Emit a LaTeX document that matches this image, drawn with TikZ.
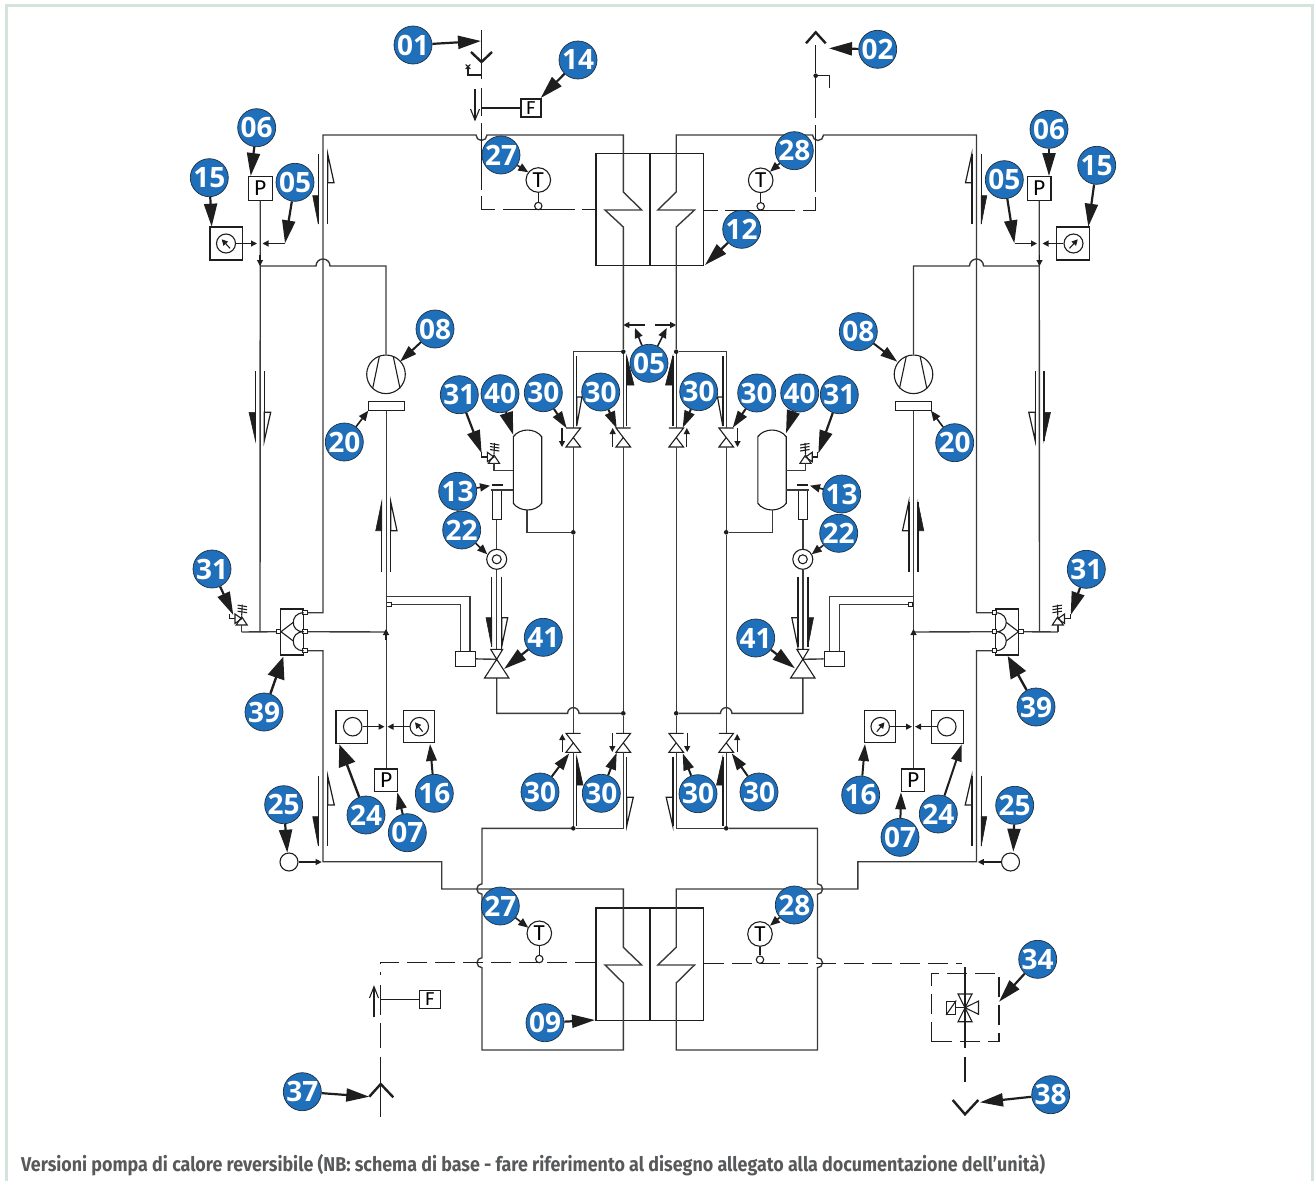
\documentclass[tikz,border=0pt]{standalone}
\usepackage{fontspec}
\setmainfont{Carlito}
\newfontfamily\chiffres{Open Sans}
\newfontfamily\legende[FakeStretch=0.894]{Fira Sans}
\usetikzlibrary{arrows.meta}
\definecolor{bleu}{HTML}{1F6FBA}
\definecolor{trait}{HTML}{3A3A3A}
\definecolor{noir}{HTML}{1E1E1E}
\definecolor{cadre}{HTML}{D5E4DA}
\definecolor{texte}{HTML}{58595B}

\newcommand{\demi}[6]{
	\draw[fil] (#1,#2) -- (#1,#3);
	\draw[#6] (#1,#3) -- (#5,#4) -- (#1,#4) -- cycle;
}
\newcommand{\clapet}[4]{
	\begin{scope}[shift={(#1,#2)},xscale=#3]
		\coordinate (#4h) at (0,0);
		\coordinate (#4b) at (0,19);
		\draw[fin] (-7.3,0) -- (7.3,0) -- (-7.3,19) -- (7.3,19) -- (0,9.5);
	\end{scope}
}
\newcommand{\soupape}[2]{
	\begin{scope}[shift={(#1,#2)}]
		\draw[fin] (-5.5,6.3) -- (5.5,6.3) -- (0,-2) -- cycle;
		\draw[fin] (-6.7,-4.7) -- (-6.7,4.7) -- (0,0) -- cycle;
		\draw[fin] (-6.7,0) -- (-12.3,0) -- (-12.3,-5);
		\draw[fin] (0.5,-14) -- (0,-3);
		\draw[fin] (-4,-13.5) -- (5.3,-12);
		\draw[fin] (-4,-10.5) -- (5.3,-9);
		\draw[fin] (-4,-7.5) -- (5.3,-6);
	\end{scope}
}
\newcommand{\moitie}{
	\node[boite,minimum width=54pt,minimum height=112.5pt] (e1) at (623,209.3) {};
	\node[boite,minimum width=54pt,minimum height=112.7pt] (e2) at (623,964.3) {};
	\node[boite,minimum width=23.5pt,minimum height=23.5pt] (p1) at (260.3,188.3) {P};
	\node[boite,minimum width=23pt,minimum height=22.7pt] (p2) at (386.2,780.3) {P};
	\node[boite,minimum width=32.7pt,minimum height=33pt] (b15) at (226.3,243.5) {};
	\node[rond,minimum size=19pt] (m15) at (226,243.5) {};
	\node[boite,minimum width=31pt,minimum height=32.4pt] (b16) at (419.2,726.5) {};
	\node[rond,minimum size=18.5pt] (m16) at (419.3,726.7) {};
	\node[boite,minimum width=31.7pt,minimum height=33pt] (b24) at (351.8,726.8) {};
	\node[rond,minimum size=18.5pt] (m24) at (352.7,726.7) {};
	\node[rond,minimum size=18pt] (m25) at (289,862) {};
	\node[rond,minimum size=38.6pt] (k1) at (386,374.3) {};
	\node[boite,minimum width=35.7pt,minimum height=8.6pt] (r20) at (386.2,406) {};
	\node[boite,minimum width=8.7pt,minimum height=28.6pt] (f13) at (496.7,505) {};
	\node[rond,minimum size=20pt] (v22) at (496.7,559.3) {};
	\node[rond,minimum size=9pt] (w22) at (496.7,559.3) {};
	\node[boite,minimum width=20pt,minimum height=15.3pt] (s41) at (465.3,658.7) {};
	\node[carre] (q0) at (389,604.3) {};
	\node[boite,minimum width=23pt,minimum height=46pt] (v39) at (292.2,632) {};
	\node[carre] (q1) at (305,612.7) {};
	\node[carre] (q2) at (305,631.7) {};
	\node[carre] (q3) at (305,650.7) {};
	\node[carre] (q4) at (278.7,631.7) {};
	\node[point] (j5) at (623.3,351.7) {};
	\node[point] (j6) at (573.3,532.3) {};
	\node[point] (j7) at (573.3,828.3) {};
	\node[point] (j8) at (623.3,713.3) {};
	\coordinate (j1) at (260,266);
	\coordinate (j2) at (260,632);
	\coordinate (j3) at (386,632);
	\coordinate (j4) at (386,596.7);
	\coordinate (j9) at (241.7,632);
	\coordinate (r1) at (527,510);
	\coordinate (v1) at (496.7,649.3);
	\coordinate (v2) at (496.7,678);
	\coordinate (v3) at (496.7,659.3);
	\coordinate (a15) at (257,243.5);
	\coordinate (a05) at (262.5,243.5);
	\coordinate (c05) at (285,243.5);
	\coordinate (a16) at (387.5,726.7);
	\coordinate (a24) at (384.5,726.7);
	\coordinate (a25) at (321.7,862);
	\clapet{573.3}{428}{1}{c1}
	\clapet{623.3}{428}{-1}{c2}
	\clapet{573.3}{733.3}{-1}{c3}
	\clapet{623.3}{733.3}{1}{c4}
	\soupape{494}{457}
	\soupape{241.7}{618.7}
	\draw[tuyau] (q1) -| (323,135) -- (476,135) arc[start angle=180,end angle=360,radius=5.5pt]
		-- (623.3,135) -- (623.3,192) -- (641.7,210) -- (605,210) -- (623.3,227) -- (j5);
	\draw[tuyau] (j5) -- (c2h);
	\draw[tuyau] (j5) -| (c1h);
	\draw[tuyau] (c1b) -- (j6);
	\draw[tuyau] (j6) -- (c3h);
	\draw[tuyau] (c2b) -- (j8);
	\draw[tuyau] (j8) -- (c4h);
	\draw[tuyau] (c3b) -- (j7);
	\draw[tuyau] (c4b) |- (j7);
	\draw[tuyau] (j7) -- (482,828.3) -- (482,883.8) arc[start angle=90,end angle=270,radius=5.2pt]
		-- (482,957.7) arc[start angle=90,end angle=270,radius=5pt]
		-- (482,1050) -- (623.3,1050) -- (623.3,983) -- (605,965) -- (641.7,965) -- (623.3,947.3)
		-- (623.3,889) -- (441.7,889) -- (441.7,861.7) -- (323,861.7) |- (q3);
	\draw[tuyau] (p1) -- (j2);
	\draw[petite] (260,255) -- (j1);
	\draw[tuyau] (j1) -- (316,266) arc[start angle=180,end angle=0,radius=7pt] -- (386,266) -- (k1);
	\draw[tuyau] (r20) -- (p2);
	\draw[tuyau] (q2) -- (j3);
	\draw[petite] (386,640) -- (386,629);
	\draw[tuyau] (q4) -- (j9);
	\draw[tuyau] (j9) -- (241.7,625);
	\draw[tuyau] (j4) -| (470,651);
	\draw[tuyau] (q0) -| (460.3,651);
	\draw[tuyau] (s41) -- (v3);
	\draw[tuyau] (v22) -- (v1);
	\draw[tuyau] (f13) -- (v22);
	\draw[tuyau] (v2) -- (496.7,713.3) -- (567.6,713.3) arc[start angle=180,end angle=0,radius=5.7pt] -- (j8);
	\draw[fin] (v1) ++(-6,0) -- ++(12,0) -- (v3) -- cycle;
	\draw[fin] (v2) ++(-12.2,0) -- ++(24.4,0) -- (v3) -- cycle;
	\draw[fin] (513.3,503.3) -- (513.3,436.7) .. controls (520,427.8) and (535,427.8) .. (541.7,436.7)
		-- (541.7,503.3) .. controls (535,512.2) and (520,512.2) .. cycle;
	\draw[tuyau] (r1) |- (j6);
	\draw[tuyau] (494,463.3) |- (513.3,470.7);
	\draw[tuyau] (513.3,490) -- (490.7,490);
	\draw[fin] (491.7,485) -- (502.7,485);
	\draw[fin] (379.3,356.7) -- (372.7,388.3);
	\draw[fin] (393.3,356.7) -- (400,388.3);
	\draw[fin] (303.7,612.7) .. controls (296,613) and (293.3,618) .. (293.3,622.3)
		.. controls (293.3,627) and (296,631.7) .. (303.7,631.7)
		.. controls (296,632) and (293.3,636.5) .. (293.3,641)
		.. controls (293.3,646) and (296,650.5) .. (303.7,650.7);
	\draw[fin] (293.3,622.3) -- (281,631.7) -- (293.3,641);
	\draw[petite] (m15) -- (a15);
	\draw[petite] (c05) -- (a05);
	\draw[petite] (230,248.3) -- (221.7,239.3);
	\draw[petite] (m16) -- (a16);
	\draw[petite] (m24) -- (a24);
	\draw[petite] (422.7,731.7) -- (415,722.3);
	\draw[petite] (m25) -- (a25);
	\draw[petite] (645,325) -- (623.3,325);
	\draw[petite] (562,428) -- (562,447);
	\draw[petite] (612.7,447) -- (612.7,428);
	\draw[petite] (562.3,752) -- (562.3,734);
	\draw[petite] (612.3,733) -- (612.3,752);
	\demi{318.3}{154}{224}{195.7}{312.7}{pleine}
	\demi{327.7}{224}{154}{182.7}{334}{creuse}
	\demi{255.5}{371}{440.7}{412.3}{249}{pleine}
	\demi{264.3}{371}{440.7}{412.3}{270.7}{creuse}
	\demi{381.7}{571.7}{501.7}{530.7}{375.7}{pleine}
	\demi{390.7}{571.7}{501.7}{530.7}{397}{creuse}
	\demi{491.7}{576.7}{646.7}{617.7}{486}{pleine}
	\demi{501.7}{576.7}{646.7}{617.7}{507.7}{creuse}
	\demi{318.3}{776}{846}{816.7}{312.7}{pleine}
	\demi{327.7}{846}{776}{805}{334.3}{creuse}
	\demi{576.7}{356}{426}{397}{582}{creuse}
	\demi{626.7}{426}{356}{385}{634}{pleine}
	\demi{576.7}{826}{756.7}{785}{583}{pleine}
	\demi{626.7}{756.7}{826}{797.3}{633.3}{creuse}
}

\begin{document}
\begin{tikzpicture}[x=1pt,y=-1pt]
	\tikzstyle{boite}=[rectangle,draw=noir,line width=1.1pt,inner sep=0pt,font=\fontsize{23}{23}\selectfont]
	\tikzstyle{rond}=[circle,draw=noir,line width=1.1pt,inner sep=0pt,fill=white,font=\fontsize{23}{23}\selectfont]
	\tikzstyle{carre}=[rectangle,draw=noir,line width=1pt,inner sep=0pt,fill=white,minimum size=4.5pt]
	\tikzstyle{point}=[circle,fill=noir,inner sep=0pt,minimum size=4.6pt]
	\tikzstyle{tuyau}=[draw=trait,line width=1.4pt]
	\tikzstyle{fin}=[draw=noir,line width=1.1pt,line join=miter]
	\tikzstyle{fil}=[draw=noir,line width=1.4pt]
	\tikzstyle{pleine}=[draw=noir,line width=.6pt,fill=noir]
	\tikzstyle{creuse}=[draw=noir,line width=1.2pt,fill=white]
	\tikzstyle{petite}=[draw=noir,line width=1.1pt,-{Triangle[length=6pt,width=6pt]}]
	\tikzstyle{enorme}=[draw=noir,line width=2.4pt,-{Triangle[length=22pt,width=17pt]}]
	\tikzstyle{grande}=[draw=noir,line width=2.2pt,-{Triangle[length=23pt,width=13pt]}]
	\tikzstyle{moyenne}=[draw=noir,line width=2pt,-{Triangle[length=17pt,width=10.5pt]}]
	\tikzstyle{mini}=[draw=noir,line width=1.6pt,-{Triangle[length=10pt,width=8pt]}]
	\tikzstyle{pastille}=[circle,draw=noir!80!bleu,line width=.7pt,fill=bleu,text=white,inner sep=0pt,minimum size=38pt,font=\chiffres\bfseries\fontsize{28}{28}\selectfont]
	\tikzstyle{eau}=[draw=noir,line width=1.2pt,dash pattern=on 20pt off 8pt]
	\tikzstyle{chevron}=[draw=noir,line width=2.4pt,line join=miter]

	\useasboundingbox (0,0) rectangle (1315,1181);
	\draw[draw=cadre,line width=3pt] (6,1181) -- (6,5.5) -- (1312,5.5) -- (1312,1181);

	\begin{scope}[name prefix=g-]
		\moitie
	\end{scope}
	\begin{scope}[name prefix=d-,xshift=1299.5pt,xscale=-1]
		\moitie
	\end{scope}

	\node[boite,minimum width=20pt,minimum height=18pt,font=\fontsize{20}{20}\selectfont] (f1) at (531,108) {F};
	\node[boite,minimum width=20.3pt,minimum height=18.3pt,font=\fontsize{20}{20}\selectfont] (f2) at (430,999.3) {F};
	\node[rond,minimum size=24.6pt] (t1) at (538.3,180) {T};
	\node[rond,minimum size=24.6pt] (t2) at (760.7,180.3) {T};
	\node[rond,minimum size=24.6pt] (t3) at (539.3,933.3) {T};
	\node[rond,minimum size=24.6pt] (t4) at (760,934) {T};
	\node[rond,minimum size=7.4pt] (o1) at (538.3,206) {};
	\node[rond,minimum size=7.4pt] (o2) at (760.7,206.3) {};
	\node[rond,minimum size=7.4pt] (o3) at (539.3,959) {};
	\node[rond,minimum size=7.4pt] (o4) at (760,959.7) {};
	\node[point] (d1) at (815.7,75.7) {};
	\node[boite,minimum width=9pt,minimum height=13.3pt] (b34) at (951.2,1007.7) {};
	\node[rectangle,draw=noir,line width=1.1pt,dash pattern=on 20pt off 8pt,inner sep=0pt,minimum width=67.3pt,minimum height=68.4pt] (a34) at (965.3,1007.5) {};
	\coordinate (v34) at (965,1007.7);

	\draw[fin] (t1) -- (o1);
	\draw[fin] (t2) -- (o2);
	\draw[fin] (t3) -- (o3);
	\draw[fin] (t4) -- (o4);

	\draw[fin] (481.5,30) -- (481.5,79);
	\draw[fin] (481.5,88) -- (481.5,116);
	\draw[fin] (481.5,123) -- (481.5,190);
	\draw[fin] (481.5,196) -- (481.5,209.7) -- (495,209.7);
	\draw[fin] (503,209.7) -- (575,209.7);
	\draw[fin] (582,209.7) -- (596,209.7);
	\draw[chevron] (471,52) -- (481.5,62) -- (492,52);
	\draw[fin] (481.5,75) -- (468,75) -- (468,68);
	\draw[fin] (465.7,64.5) -- (470.3,69) (470.3,64.5) -- (465.7,69);
	\draw[fil] (475,89) -- (475,120);
	\draw[fin] (470.5,109) -- (475,120) -- (479.5,109);
	\draw[fin] (481.5,108) -- (f1);

	\draw[fin] (815.7,45) -- (d1);
	\draw[fin] (d1) -- (829.7,75.7) -- (829.7,88);
	\draw[fin] (815.7,75.7) -- (815.7,118);
	\draw[fin] (815.7,125) -- (815.7,192);
	\draw[fin] (815.7,197) -- (815.7,210.3) -- (803,210.3);
	\draw[fin] (795,210.3) -- (725,210.3);
	\draw[fin] (718,210.3) -- (704.3,210.3);
	\draw[chevron] (806,43.3) -- (815.7,32.3) -- (825.7,43.3);

	\draw[eau] (g-e2.west |- 0,962.7) -- (380.7,962.7) -- (380.7,975);
	\draw[fin] (380.7,985) -- (380.7,1015);
	\draw[fin] (380.7,1023) -- (380.7,1048);
	\draw[fin] (380.7,1056.7) -- (380.7,1116.7);
	\draw[fin] (380.7,999.3) -- (f2);
	\draw[chevron] (369.3,1096.7) -- (380.7,1084) -- (393.3,1097.3);
	\draw[fil] (374,1017.3) -- (374,986.7);
	\draw[fin] (369.5,998) -- (374,986.7) -- (378.5,998);

	\draw[eau] (d-e2.east |- 0,963.5) -- (961.7,963.5);
	\draw[fin] (965,967.3) -- (v34);
	\draw[fin] (v34) -- (965,1048.3);
	\draw[fin] (965,1056.7) -- (965,1081.7);
	\draw[fin] (958,994) -- (972,994) -- (v34) -- cycle;
	\draw[fin] (958,1021.7) -- (972,1021.7) -- (v34) -- cycle;
	\draw[fin] (978.5,1001) -- (978.5,1014.3) -- (v34) -- cycle;
	\draw[fin] (b34) -- (v34);
	\draw[fin] (b34.south west) -- (b34.north east);
	\draw[chevron] (952.7,1100) -- (965,1114.3) -- (978.3,1100);

	\coordinate (c01) at (481,41); \node[pastille] (n01) at (413,45) {01}; \draw[grande] (n01) -- (c01);
	\coordinate (c02) at (829,48.3); \node[pastille] (n02) at (877.7,49.3) {02}; \draw[grande] (n02) -- (c02);
	\coordinate (c14) at (540.7,98); \node[pastille] (n14) at (578,60) {14}; \draw[grande] (n14) -- (c14);
	\coordinate (c06a) at (250.7,176); \node[pastille] (n06a) at (256.7,127.7) {06}; \draw[grande] (n06a) -- (c06a);
	\coordinate (c06b) at (1049,176); \node[pastille] (n06b) at (1049,129.3) {06}; \draw[grande] (n06b) -- (c06b);
	\coordinate (c15a) at (211.7,226.7); \node[pastille] (n15a) at (209.3,177.7) {15}; \draw[grande] (n15a) -- (c15a);
	\coordinate (c15b) at (1088.3,226.7); \node[pastille] (n15b) at (1096.7,165.3) {15}; \draw[grande] (n15b) -- (c15b);
	\coordinate (c05a) at (285,243.3); \node[pastille] (n05a) at (295,182.3) {05}; \draw[grande] (n05a) -- (c05a);
	\coordinate (c05b) at (1014.3,243.3); \node[pastille] (n05b) at (1004.3,179.7) {05}; \draw[grande] (n05b) -- (c05b);
	\coordinate (c05c) at (635,328); \coordinate (c05d) at (666.7,328); \node[pastille] (n05c) at (649,363.3) {05};
	\draw[mini] (n05c) -- (c05c); \draw[mini] (n05c) -- (c05d);
	\coordinate (c27a) at (528.3,172.3); \node[pastille] (n27a) at (501,155) {27}; \draw[mini] (n27a) -- (c27a);
	\coordinate (c27b) at (528.3,927.7); \node[pastille] (n27b) at (500.3,906) {27}; \draw[mini] (n27b) -- (c27b);
	\coordinate (c28a) at (770,171.7); \node[pastille] (n28a) at (794.3,150.7) {28}; \draw[mini] (n28a) -- (c28a);
	\coordinate (c28b) at (770,925.7); \node[pastille] (n28b) at (794.3,905) {28}; \draw[mini] (n28b) -- (c28b);
	\coordinate (c12) at (705,265); \node[pastille] (n12) at (741.7,229.3) {12}; \draw[grande] (n12) -- (c12);
	\coordinate (c08a) at (400,361.7); \node[pastille] (n08a) at (435,329) {08}; \draw[moyenne] (n08a) -- (c08a);
	\coordinate (c08b) at (897.3,361.7); \node[pastille] (n08b) at (858.3,331.7) {08}; \draw[moyenne] (n08b) -- (c08b);
	\coordinate (c20a) at (368.3,410.7); \node[pastille] (n20a) at (344.3,442) {20}; \draw[mini] (n20a) -- (c20a);
	\coordinate (c20b) at (931,410.7); \node[pastille] (n20b) at (954.7,442.7) {20}; \draw[mini] (n20b) -- (c20b);
	\coordinate (c31a) at (481.7,453.3); \node[pastille] (n31a) at (459.3,394.7) {31}; \draw[grande] (n31a) -- (c31a);
	\coordinate (c31b) at (818.3,453.3); \node[pastille] (n31b) at (839.3,394.7) {31}; \draw[grande] (n31b) -- (c31b);
	\coordinate (c31c) at (233.3,615); \node[pastille] (n31c) at (212,569) {31}; \draw[grande] (n31c) -- (c31c);
	\coordinate (c31d) at (1070.7,615); \node[pastille] (n31d) at (1086.3,569.3) {31}; \draw[grande] (n31d) -- (c31d);
	\coordinate (c40a) at (513.3,435); \node[pastille] (n40a) at (500,393.7) {40}; \draw[grande] (n40a) -- (c40a);
	\coordinate (c40b) at (786,433.3); \node[pastille] (n40b) at (799.7,393) {40}; \draw[grande] (n40b) -- (c40b);
	\coordinate (c30a) at (566.7,428.3); \node[pastille] (n30a) at (543.3,392.7) {30}; \draw[moyenne] (n30a) -- (c30a);
	\coordinate (c30b) at (616.7,428.3); \node[pastille] (n30b) at (600.7,392) {30}; \draw[moyenne] (n30b) -- (c30b);
	\coordinate (c30c) at (682.7,427.7); \node[pastille] (n30c) at (698.7,391.7) {30}; \draw[moyenne] (n30c) -- (c30c);
	\coordinate (c30d) at (732.7,427.7); \node[pastille] (n30d) at (756.7,393) {30}; \draw[moyenne] (n30d) -- (c30d);
	\coordinate (c30e) at (569.3,753.3); \node[pastille] (n30e) at (540,792) {30}; \draw[moyenne] (n30e) -- (c30e);
	\coordinate (c30f) at (616.7,752.7); \node[pastille] (n30f) at (601.3,793.3) {30}; \draw[moyenne] (n30f) -- (c30f);
	\coordinate (c30g) at (682.7,753.3); \node[pastille] (n30g) at (698,793.7) {30}; \draw[moyenne] (n30g) -- (c30g);
	\coordinate (c30h) at (731.7,753.3); \node[pastille] (n30h) at (759,792) {30}; \draw[moyenne] (n30h) -- (c30h);
	\coordinate (c13a) at (490,485.7); \node[pastille] (n13a) at (457.7,491.3) {13}; \draw[mini] (n13a) -- (c13a);
	\coordinate (c13b) at (810,485.7); \node[pastille] (n13b) at (841.7,494) {13}; \draw[mini] (n13b) -- (c13b);
	\coordinate (c22a) at (487.3,554.3); \node[pastille] (n22a) at (461.7,530) {22}; \draw[mini] (n22a) -- (c22a);
	\coordinate (c22b) at (811.7,554.3); \node[pastille] (n22b) at (838.7,533.3) {22}; \draw[mini] (n22b) -- (c22b);
	\coordinate (c39a) at (283.3,656.7); \node[pastille] (n39a) at (264,712) {39}; \draw[enorme] (n39a) -- (c39a);
	\coordinate (c39b) at (1007.7,656); \node[pastille] (n39b) at (1036,707) {39}; \draw[enorme] (n39b) -- (c39b);
	\coordinate (c41a) at (504,669); \node[pastille] (n41a) at (543.3,637.3) {41}; \draw[grande] (n41a) -- (c41a);
	\coordinate (c41b) at (795,668.3); \node[pastille] (n41b) at (755.7,638) {41}; \draw[grande] (n41b) -- (c41b);
	\coordinate (c24a) at (339.3,744.3); \node[pastille] (n24a) at (366,815) {24}; \draw[enorme] (n24a) -- (c24a);
	\coordinate (c24b) at (961.7,744.3); \node[pastille] (n24b) at (938.3,814) {24}; \draw[moyenne] (n24b) -- (c24b);
	\coordinate (c16a) at (430,744); \node[pastille] (n16a) at (434.3,793.3) {16}; \draw[moyenne] (n16a) -- (c16a);
	\coordinate (c16b) at (865,744); \node[pastille] (n16b) at (860.7,795) {16}; \draw[moyenne] (n16b) -- (c16b);
	\coordinate (c07a) at (397.3,792.3); \node[pastille] (n07a) at (407.3,832.7) {07}; \draw[moyenne] (n07a) -- (c07a);
	\coordinate (c07b) at (901,792.3); \node[pastille] (n07b) at (900,837.3) {07}; \draw[moyenne] (n07b) -- (c07b);
	\coordinate (c25a) at (287.3,852.7); \node[pastille] (n25a) at (283.7,804.7) {25}; \draw[grande] (n25a) -- (c25a);
	\coordinate (c25b) at (1013.3,851.7); \node[pastille] (n25b) at (1014.7,805.3) {25}; \draw[grande] (n25b) -- (c25b);
	\coordinate (c09) at (595,1020); \node[pastille] (n09) at (545,1022.7) {09}; \draw[grande] (n09) -- (c09);
	\coordinate (c34) at (999,1001.7); \node[pastille] (n34) at (1037.7,959.3) {34}; \draw[grande] (n34) -- (c34);
	\coordinate (c37) at (369.3,1096.7); \node[pastille] (n37) at (302.3,1091.7) {37}; \draw[grande] (n37) -- (c37);
	\coordinate (c38) at (980,1102.3); \node[pastille] (n38) at (1050.7,1094.7) {38}; \draw[grande] (n38) -- (c38);

	\node[anchor=base west,inner sep=0pt,text=texte,font=\legende\bfseries\fontsize{20}{20}\selectfont] (legende) at (21,1171) {Versioni pompa di calore reversibile (NB: schema di base - fare riferimento al disegno allegato alla documentazione dell’unità)};
\end{tikzpicture}
\end{document}
